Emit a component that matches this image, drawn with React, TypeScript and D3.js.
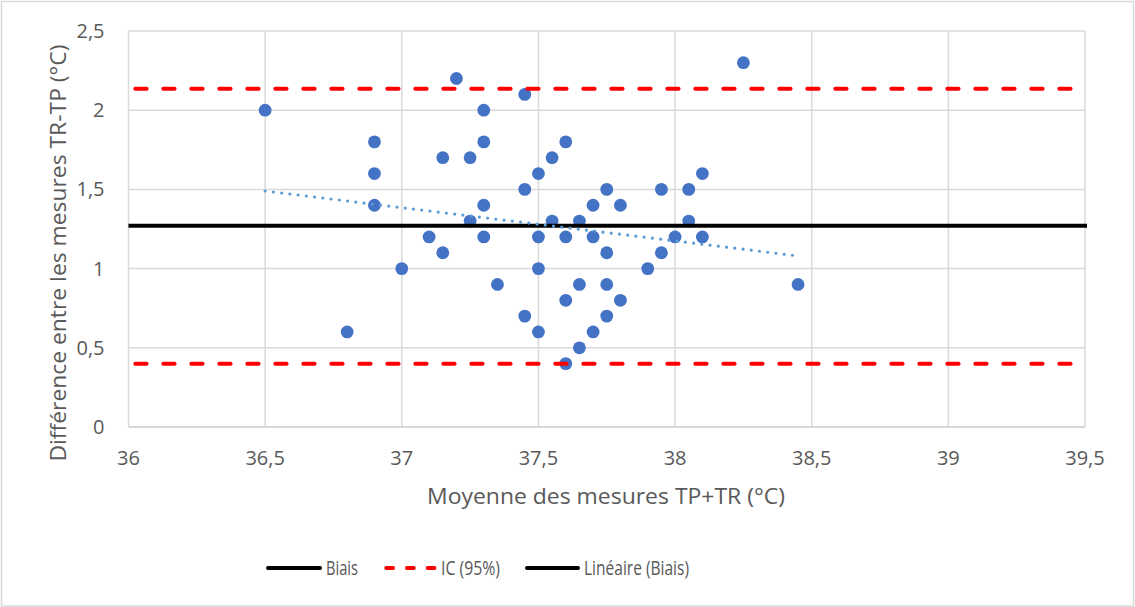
import React from "react";
import * as d3 from "d3";

const diffX = [36.5, 36.8, 36.9, 36.9, 36.9, 37.0, 37.1, 37.15, 37.15, 37.2, 37.25, 37.25, 37.3, 37.3, 37.3, 37.3, 37.35, 37.45, 37.45, 37.45, 37.5, 37.5, 37.5, 37.5, 37.55, 37.55, 37.6, 37.6, 37.6, 37.6, 37.65, 37.65, 37.65, 37.7, 37.7, 37.7, 37.75, 37.75, 37.75, 37.75, 37.8, 37.8, 37.9, 37.95, 37.95, 38.0, 38.05, 38.05, 38.1, 38.1, 38.25, 38.45];
const diffY = [2.0, 0.6, 1.8, 1.6, 1.4, 1.0, 1.2, 1.7, 1.1, 2.2, 1.7, 1.3, 2.0, 1.8, 1.4, 1.2, 0.9, 2.1, 1.5, 0.7, 1.6, 1.2, 1.0, 0.6, 1.7, 1.3, 1.8, 1.2, 0.8, 0.4, 1.3, 0.9, 0.5, 1.4, 1.2, 0.6, 1.5, 1.1, 0.9, 0.7, 1.4, 0.8, 1.0, 1.5, 1.1, 1.2, 1.5, 1.3, 1.6, 1.2, 2.3, 0.9];

const biasValue = 1.27;
const icUpper = 2.135;
const icLower = 0.4;
const trendX = [36.5, 38.45];
const trendY = [1.49, 1.08];

const xTicks = [36, 36.5, 37, 37.5, 38, 38.5, 39, 39.5];
const xTickLabels = ["36", "36,5", "37", "37,5", "38", "38,5", "39", "39,5"];
const yTicks = [0, 0.5, 1, 1.5, 2, 2.5];
const yTickLabels = ["0", "0,5", "1", "1,5", "2", "2,5"];

const legendLabels = ["Biais", "IC (95%)", "Linéaire (Biais)"];

const W = 1135;
const H = 607;
const FONT = "'Open Sans', sans-serif";
const TXT = "#595959";

export default function App() {
  const x = d3.scaleLinear().domain([36, 39.5]).range([128.5, 1085]);
  const y = d3.scaleLinear().domain([0, 2.5]).range([427, 31]);
  const line = d3.line<[number, number]>().x((d) => x(d[0])).y((d) => y(d[1]));
  const trendPts: [number, number][] = trendX.map((v, i) => [v, trendY[i]]);

  const legendItems = [
    { label: legendLabels[0], x1: 268, x2: 320, tx: 326, tw: 32, color: "#000", dash: undefined as string | undefined },
    { label: legendLabels[1], x1: 386.3, x2: 436, tx: 441, tw: 59, color: "#FF0000", dash: "6.7 14" },
    { label: legendLabels[2], x1: 527, x2: 578, tx: 584, tw: 105, color: "#000", dash: undefined },
  ];

  return (
    <div style={{ position: "absolute", left: 0, top: 0 }}>
      <svg width={W} height={H} style={{ display: "block", background: "#fff" }}>
        <rect x={1.5} y={1.5} width={W - 3} height={H - 2.5} fill="#fff" stroke="#D9D9D9" strokeWidth={1.5} />
        {/* grid */}
        {yTicks.map((t) => (
          <line key={"gy" + t} x1={x(36)} x2={x(39.5)} y1={y(t)} y2={y(t)} stroke={t === 0 ? "#C8C8C8" : "#D9D9D9"} strokeWidth={1.5} />
        ))}
        {xTicks.map((t) => (
          <line key={"gx" + t} x1={x(t)} x2={x(t)} y1={y(0)} y2={y(2.5)} stroke="#D9D9D9" strokeWidth={1.5} />
        ))}
        {/* tick labels */}
        {yTicks.map((t, i) => (
          <text key={"ty" + t} x={104.5} y={y(t)} dy="0.35em" textAnchor="end" fontFamily={FONT} fontSize={20} fill={TXT}>
            {yTickLabels[i]}
          </text>
        ))}
        {xTicks.map((t, i) => (
          <text key={"tx" + t} x={x(t)} y={465} textAnchor="middle" fontFamily={FONT} fontSize={20} fill={TXT}>
            {xTickLabels[i]}
          </text>
        ))}
        {/* axis titles */}
        <text x={606} y={504} textAnchor="middle" fontFamily={FONT} fontSize={21} fill={TXT} textLength={358} lengthAdjust="spacingAndGlyphs">
          Moyenne des mesures TP+TR (°C)
        </text>
        <text transform="translate(66,253) rotate(-90)" textAnchor="middle" fontFamily={FONT} fontSize={21} fill={TXT} textLength={417} lengthAdjust="spacingAndGlyphs">
          Différence entre les mesures TR-TP (°C)
        </text>
        {/* points */}
        {diffX.map((v, i) => (
          <circle key={"p" + i} cx={x(v)} cy={y(diffY[i])} r={6.4} fill="#4472C4" />
        ))}
        {/* bias */}
        <line x1={x(36)} x2={x(39.5) + 2} y1={y(biasValue)} y2={y(biasValue)} stroke="#000" strokeWidth={4} />
        {/* IC */}
        {[icUpper, icLower].map((v) => (
          <line key={"ic" + v} x1={x(36)} x2={x(39.5)} y1={y(v)} y2={y(v)} stroke="#FF0000" strokeWidth={4} strokeLinecap="round" strokeDasharray="11.3 16.7" strokeDashoffset={21.2} />
        ))}
        {/* trend */}
        <path d={line(trendPts) || ""} fill="none" stroke="#5B9BD5" strokeWidth={3.2} strokeLinecap="round" strokeDasharray="0 8.3" />
        {/* legend */}
        {legendItems.map((it) => (
          <g key={it.label}>
            <line x1={it.x1} x2={it.x2} y1={568} y2={568} stroke={it.color} strokeWidth={4} strokeLinecap="round" strokeDasharray={it.dash} />
            <text x={it.tx} y={568} dy="0.35em" fontFamily={FONT} fontSize={20} fill={TXT} textLength={it.tw} lengthAdjust="spacingAndGlyphs">
              {it.label}
            </text>
          </g>
        ))}
      </svg>
    </div>
  );
}
